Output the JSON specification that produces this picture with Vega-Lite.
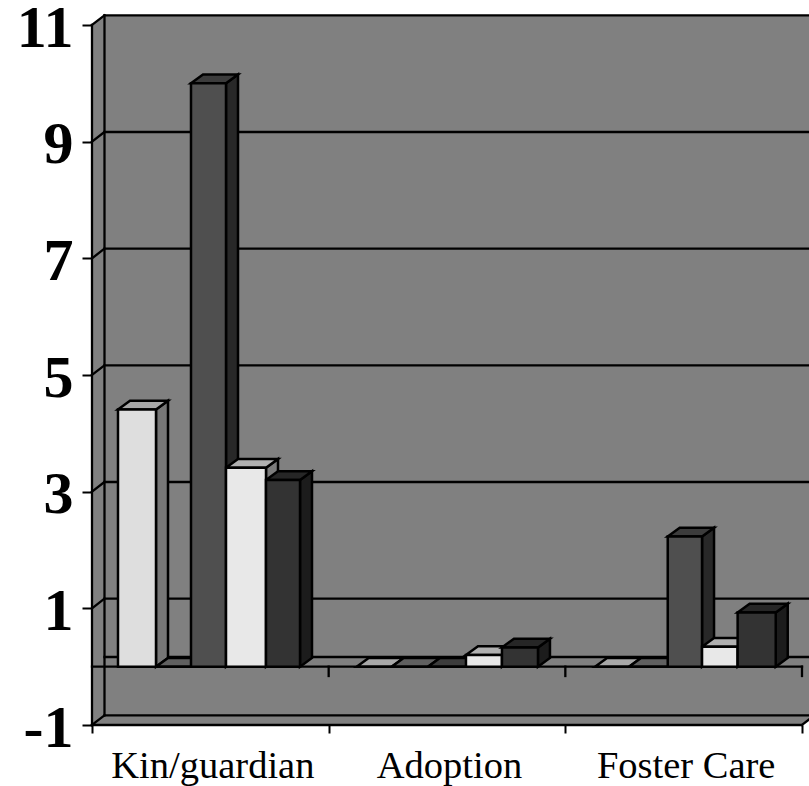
{
  "$schema": "https://vega.github.io/schema/vega-lite/v6.json",
  "width": 710,
  "height": 700,
  "autosize": {"type": "none"},
  "padding": {"left": 92, "top": 25, "right": 7, "bottom": 61},
  "background": "white",
  "config": {"view": {"stroke": null}},
  "datasets": {
    "bars": [
      {"category": "Kin/guardian", "series": "A", "value": 4.41},
      {"category": "Kin/guardian", "series": "B", "value": 0},
      {"category": "Kin/guardian", "series": "C", "value": 10},
      {"category": "Kin/guardian", "series": "D", "value": 3.41},
      {"category": "Kin/guardian", "series": "E", "value": 3.2},
      {"category": "Adoption", "series": "A", "value": 0},
      {"category": "Adoption", "series": "B", "value": 0},
      {"category": "Adoption", "series": "C", "value": 0},
      {"category": "Adoption", "series": "D", "value": 0.2},
      {"category": "Adoption", "series": "E", "value": 0.33},
      {"category": "Foster Care", "series": "A", "value": 0},
      {"category": "Foster Care", "series": "B", "value": 0},
      {"category": "Foster Care", "series": "C", "value": 2.23},
      {"category": "Foster Care", "series": "D", "value": 0.34},
      {"category": "Foster Care", "series": "E", "value": 0.93}
    ],
    "wall": [
      {"x": 0, "y": -1, "y2": 11},
      {"x": 0.0528, "y": -1, "y2": 11.166},
      {"x": 3, "y": -1, "y2": 11.166},
      {"x": 3.0528, "y": -0.834, "y2": 11.166},
      {"x": 3.1, "y": -0.834, "y2": 11.166}
    ],
    "lines": [
      {"x": 0, "x2": 0, "y": -1, "y2": 11},
      {"x": 0.0528, "x2": 0.0528, "y": -0.834, "y2": 11.166},
      {"x": 0, "x2": 3, "y": -1, "y2": -1},
      {"x": 3, "x2": 3.0528, "y": -1, "y2": -0.834},
      {"x": 0.0528, "x2": 3.1, "y": -0.834, "y2": -0.834},
      {"x": 0, "x2": 0.0528, "y": -1, "y2": -0.834},
      {"x": 0, "x2": 0.0528, "y": 1, "y2": 1.166},
      {"x": 0.0528, "x2": 3.1, "y": 1.166, "y2": 1.166},
      {"x": 0, "x2": 0.0528, "y": 3, "y2": 3.166},
      {"x": 0.0528, "x2": 3.1, "y": 3.166, "y2": 3.166},
      {"x": 0, "x2": 0.0528, "y": 5, "y2": 5.166},
      {"x": 0.0528, "x2": 3.1, "y": 5.166, "y2": 5.166},
      {"x": 0, "x2": 0.0528, "y": 7, "y2": 7.166},
      {"x": 0.0528, "x2": 3.1, "y": 7.166, "y2": 7.166},
      {"x": 0, "x2": 0.0528, "y": 9, "y2": 9.166},
      {"x": 0.0528, "x2": 3.1, "y": 9.166, "y2": 9.166},
      {"x": 0, "x2": 0.0528, "y": 11, "y2": 11.166},
      {"x": 0.0528, "x2": 3.1, "y": 11.166, "y2": 11.166},
      {"x": 0.0528, "x2": 3.1, "y": 0.166, "y2": 0.166},
      {"x": 0, "x2": 3, "y": 0, "y2": 0},
      {"x": 1, "x2": 1, "y": 0, "y2": -0.16},
      {"x": 2, "x2": 2, "y": 0, "y2": -0.16},
      {"x": 3, "x2": 3, "y": 0, "y2": -0.16}
    ]
  },
  "layer": [
    {
      "data": {"name": "wall"},
      "mark": {"type": "area", "color": "#808080", "orient": "vertical"},
      "encoding": {
        "x": {
          "field": "x", "type": "quantitative",
          "scale": {"domain": [0, 3], "nice": false, "zero": false, "clamp": false},
          "axis": {
            "values": [0, 0.5, 1, 1.5, 2, 2.5, 3],
            "title": null, "domain": false, "grid": false,
            "tickColor": "#000000", "tickWidth": 2, "tickSize": 8,
            "tickOpacity": {"condition": {"test": "datum.value % 1 !== 0", "value": 0}, "value": 1},
            "labelExpr": "datum.value === 0.5 ? 'Kin/guardian' : datum.value === 1.5 ? 'Adoption' : datum.value === 2.5 ? 'Foster Care' : ''",
            "labelFont": "Liberation Serif", "labelFontSize": 38.5, "labelColor": "#000000",
            "labelBaseline": "alphabetic", "labelPadding": 44, "labelOverlap": false,
            "labelBound": false, "labelFlush": false, "labelAngle": 0, "labelLimit": 400, "labelOffset": 2
          }
        },
        "y": {
          "field": "y", "type": "quantitative",
          "scale": {"domain": [-1, 11], "nice": false, "zero": false},
          "axis": {
            "values": [-1, 1, 3, 5, 7, 9, 11],
            "labelExpr": "'' + datum.value",
            "title": null, "domain": false, "grid": false,
            "tickColor": "#000000", "tickWidth": 2, "tickSize": 10,
            "labelFont": "Liberation Serif", "labelFontSize": 60, "labelFontWeight": "bold",
            "labelColor": "#000000", "labelPadding": 9, "labelOffset": 3,
            "labelBound": false, "labelFlush": false, "labelOverlap": false
          }
        },
        "y2": {"field": "y2"}
      }
    },
    {
      "data": {"name": "lines"},
      "mark": {"type": "rule", "color": "#000000", "strokeWidth": 2.3, "strokeCap": "square"},
      "encoding": {
        "x": {"field": "x", "type": "quantitative"},
        "x2": {"field": "x2"},
        "y": {"field": "y", "type": "quantitative"},
        "y2": {"field": "y2"}
      }
    },
    {
      "data": {"name": "bars"},
      "transform": [
        {"calculate": "indexof(['Kin/guardian','Adoption','Foster Care'], datum.category)", "as": "c"},
        {"calculate": "indexof(['A','B','C','D','E'], datum.series)", "as": "s"},
        {"calculate": "datum.c + [[26,64,99,134,174,208],[28,63,99.3,137.3,173.3,209.3],[29.7,63.7,102.4,136.7,172.3,210.4]][datum.c][datum.s + 1] / 236.67", "as": "x1"},
        {"calculate": "datum.category + datum.series", "as": "id"},
        {"calculate": "[0, 1]", "as": "t"},
        {"flatten": ["t"]},
        {"calculate": "datum.x1 + datum.t * 0.0507", "as": "sx"},
        {"calculate": "datum.value + datum.t * 0.15", "as": "sy"},
        {"calculate": "datum.t * 0.15", "as": "sb"}
      ],
      "mark": {"type": "area", "orient": "vertical", "stroke": "#000000", "strokeWidth": 2.5, "strokeJoin": "miter"},
      "encoding": {
        "x": {"field": "sx", "type": "quantitative"},
        "y": {"field": "sy", "type": "quantitative"},
        "y2": {"field": "sb"},
        "detail": {"field": "id"},
        "fill": {
          "field": "series", "type": "nominal", "legend": null,
          "scale": {"domain": ["A", "B", "C", "D", "E"], "range": ["#777777", "#555555", "#282828", "#7c7c7c", "#1c1c1c"]}
        }
      }
    },
    {
      "data": {"name": "bars"},
      "transform": [
        {"calculate": "indexof(['Kin/guardian','Adoption','Foster Care'], datum.category)", "as": "c"},
        {"calculate": "indexof(['A','B','C','D','E'], datum.series)", "as": "s"},
        {"calculate": "datum.c + [[26,64,99,134,174,208],[28,63,99.3,137.3,173.3,209.3],[29.7,63.7,102.4,136.7,172.3,210.4]][datum.c][datum.s] / 236.67", "as": "x0"},
        {"calculate": "datum.c + [[26,64,99,134,174,208],[28,63,99.3,137.3,173.3,209.3],[29.7,63.7,102.4,136.7,172.3,210.4]][datum.c][datum.s + 1] / 236.67", "as": "x1"},
        {"calculate": "datum.category + datum.series", "as": "id"},
        {"calculate": "[0, 1]", "as": "t"},
        {"flatten": ["t"]},
        {"calculate": "datum.x0 + datum.t * 0.0507", "as": "tx0"},
        {"calculate": "datum.x1 + datum.t * 0.0507", "as": "tx1"},
        {"calculate": "datum.value + datum.t * 0.15", "as": "ty"}
      ],
      "mark": {"type": "area", "orient": "horizontal", "stroke": "#000000", "strokeWidth": 2.5, "strokeJoin": "miter"},
      "encoding": {
        "y": {"field": "ty", "type": "quantitative"},
        "x": {"field": "tx0", "type": "quantitative"},
        "x2": {"field": "tx1"},
        "detail": {"field": "id"},
        "fill": {
          "field": "series", "type": "nominal", "legend": null,
          "scale": {"domain": ["A", "B", "C", "D", "E"], "range": ["#a8a8a8", "#606060", "#3c3c3c", "#b0b0b0", "#262626"]}
        }
      }
    },
    {
      "data": {"name": "bars"},
      "transform": [
        {"calculate": "indexof(['Kin/guardian','Adoption','Foster Care'], datum.category)", "as": "c"},
        {"calculate": "indexof(['A','B','C','D','E'], datum.series)", "as": "s"},
        {"calculate": "datum.c + [[26,64,99,134,174,208],[28,63,99.3,137.3,173.3,209.3],[29.7,63.7,102.4,136.7,172.3,210.4]][datum.c][datum.s] / 236.67", "as": "x0"},
        {"calculate": "datum.c + [[26,64,99,134,174,208],[28,63,99.3,137.3,173.3,209.3],[29.7,63.7,102.4,136.7,172.3,210.4]][datum.c][datum.s + 1] / 236.67", "as": "x1"}
      ],
      "mark": {"type": "rect", "stroke": "#000000", "strokeWidth": 2.5},
      "encoding": {
        "x": {"field": "x0", "type": "quantitative"},
        "x2": {"field": "x1"},
        "y": {"field": "value", "type": "quantitative"},
        "y2": {"datum": 0},
        "fill": {
          "field": "series", "type": "nominal", "legend": null,
          "scale": {"domain": ["A", "B", "C", "D", "E"], "range": ["#dedede", "#707070", "#4f4f4f", "#e8e8e8", "#333333"]}
        }
      }
    }
  ],
  "resolve": {"scale": {"fill": "independent"}}
}
